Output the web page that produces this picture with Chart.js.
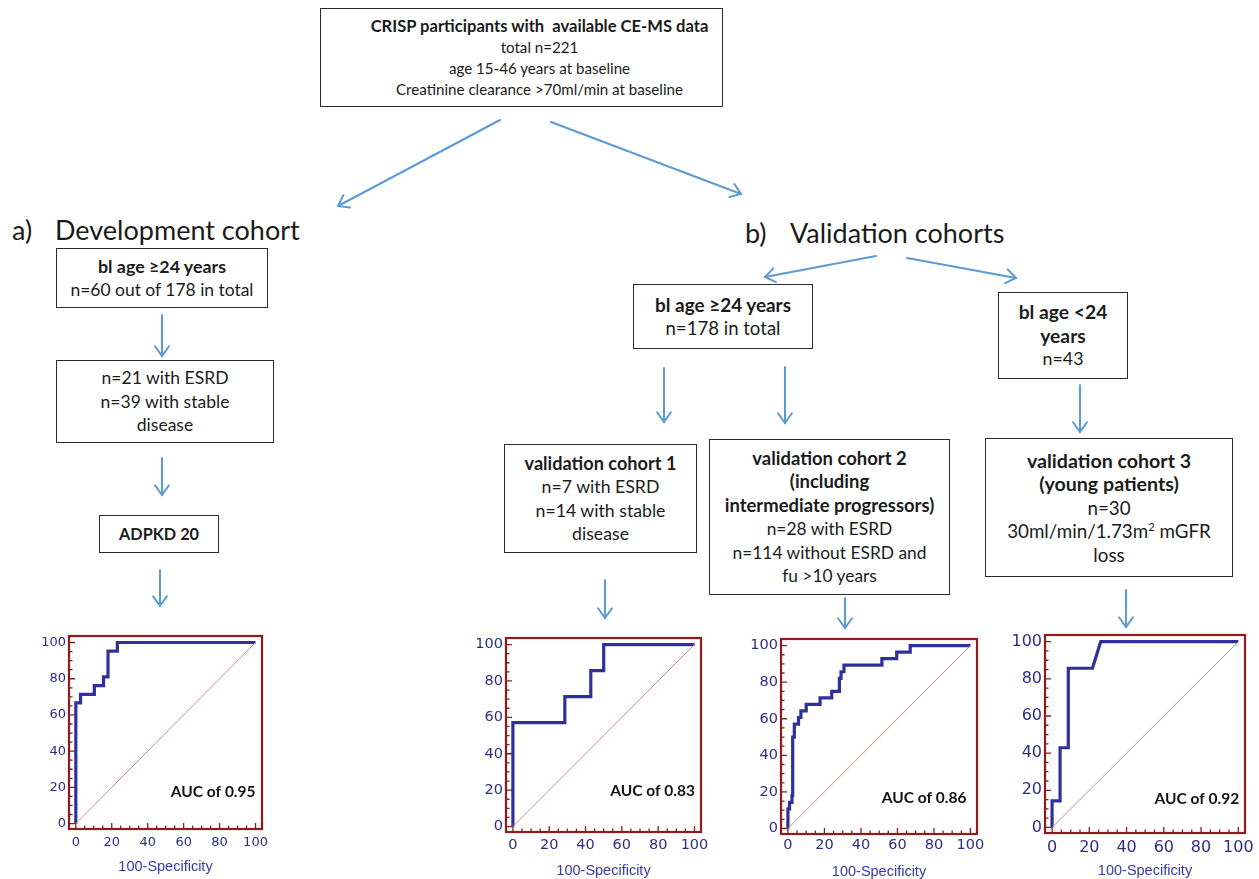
<!DOCTYPE html>
<html>
<head>
<meta charset="utf-8">
<title>CRISP CE-MS cohorts and ROC curves</title>
<script src="https://cdn.jsdelivr.net/npm/chart.js@4.4.1/dist/chart.umd.min.js"></script>
<style>
  html, body { margin: 0; padding: 0; background: #fff; }
  #page { position: relative; width: 1259px; height: 879px; overflow: hidden;
          font-family: Lato, "Open Sans", sans-serif; color: #1b1b1b; }
  .box { position: absolute; box-sizing: border-box; border: 1.7px solid #2a2a2a;
         display: flex; flex-direction: column; justify-content: center; align-items: center;
         text-align: center; font-size: 16px; line-height: 23.5px; white-space: nowrap; }
  .box b { font-weight: 700; }
  .box sup { font-size: 0.6em; line-height: 0; }
  .head { position: absolute; font-size: 27px; white-space: nowrap; line-height: 30px; color: #1b1b1b; }
  .roc { position: absolute; }
  #arrows { position: absolute; left: 0; top: 0; }
</style>
</head>
<body>
<div id="page">
  <svg id="arrows" width="1259" height="879"></svg>

  <div class="box" style="left:320px;top:8px;width:403px;height:99px;padding-left:36px;line-height:21px;">
    <b data-w="338">CRISP participants with&nbsp; available CE-MS data</b>
    <span data-w="70">total n=221</span>
    <span data-w="180">age 15-46 years at baseline</span>
    <span data-w="318">Creatinine clearance &gt;70ml/min at baseline</span>
  </div>

  <div class="head" style="left:12px;top:215px;">a)</div>
  <div class="head" style="left:55px;top:215px;">Development cohort</div>
  <div class="head" style="left:745px;top:218px;">b)</div>
  <div class="head" style="left:790px;top:218px;">Validation cohorts</div>

  <div class="box" style="left:56px;top:248px;width:212px;height:60px;">
    <b data-w="128">bl age ≥24 years</b>
    <span data-w="183">n=60 out of 178 in total</span>
  </div>
  <div class="box" style="left:56px;top:360px;width:218px;height:83px;">
    <span data-w="125">n=21 with ESRD</span>
    <span data-w="130">n=39 with stable</span>
    <span data-w="57">disease</span>
  </div>
  <div class="box" style="left:99px;top:515px;width:120px;height:38px;">
    <b data-w="80">ADPKD 20</b>
  </div>

  <div class="box" style="left:633px;top:284px;width:180px;height:65px;">
    <b data-w="136">bl age ≥24 years</b>
    <span data-w="115">n=178 in total</span>
  </div>
  <div class="box" style="left:504px;top:444px;width:193px;height:109px;">
    <b data-w="152">validation cohort 1</b>
    <span data-w="114">n=7 with ESRD</span>
    <span data-w="132">n=14 with stable</span>
    <span data-w="58">disease</span>
  </div>
  <div class="box" style="left:709px;top:439px;width:241px;height:156px;">
    <b data-w="153">validation cohort 2</b>
    <b data-w="80">(including</b>
    <b data-w="210">intermediate progressors)</b>
    <span data-w="123">n=28 with ESRD</span>
    <span data-w="194">n=114 without ESRD and</span>
    <span data-w="97">fu &gt;10 years</span>
  </div>
  <div class="box" style="left:998px;top:292px;width:130px;height:87px;">
    <b data-w="86">bl age &lt;24</b>
    <b data-w="47">years</b>
    <span data-w="41">n=43</span>
  </div>
  <div class="box" style="left:985px;top:438px;width:248px;height:139px;">
    <b data-w="163">validation cohort 3</b>
    <b data-w="141">(young patients)</b>
    <span data-w="42">n=30</span>
    <span data-w="205">30ml/min/1.73m<sup>2</sup> mGFR</span>
    <span data-w="32">loss</span>
  </div>

  <div class="roc" id="w1"><canvas id="roc1"></canvas></div>
  <div class="roc" id="w2"><canvas id="roc2"></canvas></div>
  <div class="roc" id="w3"><canvas id="roc3"></canvas></div>
  <div class="roc" id="w4"><canvas id="roc4"></canvas></div>
</div>

<script>
// ---- ROC data: 100-Specificity (x) and Sensitivity (y) at each curve corner ----
const tickValues = [0, 20, 40, 60, 80, 100];
const axisTitle = '100-Specificity';
const diagonalX = [0, 100];
const diagonalY = [0, 100];

// a) development cohort, ADPKD 20
const fprDev = [0, 0, 2.6, 2.6, 10.3, 10.3, 15.4, 15.4, 17.9, 17.9, 23.1, 23.1, 100];
const sensDev = [0, 66.7, 66.7, 71.4, 71.4, 76.2, 76.2, 81.0, 81.0, 95.2, 95.2, 100, 100];

// validation cohort 1
const fprVal1 = [0, 0, 28.6, 28.6, 42.9, 42.9, 50.0, 50.0, 100];
const sensVal1 = [0, 57.1, 57.1, 71.4, 71.4, 85.7, 85.7, 100, 100];

// validation cohort 2
const fprVal2 = [0, 0, 0.9, 0.9, 2.2, 2.2, 2.6, 2.6, 3.5, 3.5, 5.8, 5.8, 7.1, 7.1, 10.0, 10.0,
                 17.6, 17.6, 24.0, 24.0, 28.2, 28.2, 29.1, 29.1, 30.7, 30.7, 51.5, 51.5,
                 59.6, 59.6, 67.0, 67.0, 100];
const sensVal2 = [0, 10.7, 10.7, 14.3, 14.3, 17.9, 17.9, 50.0, 50.0, 57.1, 57.1, 60.7, 60.7, 64.3, 64.3, 67.9,
                  67.9, 71.4, 71.4, 75.0, 75.0, 82.1, 82.1, 85.7, 85.7, 89.3, 89.3, 92.9,
                  92.9, 96.4, 96.4, 100, 100];

// validation cohort 3 (young patients)
const fprVal3 = [0, 0, 4.3, 4.3, 8.7, 8.7, 21.7, 26.1, 100];
const sensVal3 = [0, 14.3, 14.3, 42.9, 42.9, 85.7, 85.7, 100, 100];

const aucLabels = ['AUC of 0.95', 'AUC of 0.83', 'AUC of 0.86', 'AUC of 0.92'];

// ---- styling ----
const FRAME = '#8e1c1c';
const CURVE = '#30309a';
const DIAG = '#c48f8f';
const TICK_COLOR = '#2e2e88';
const TITLE_COLOR = '#3838a8';
const TITLE_SIZE = 14.5;
const X_MIN = -3.8, X_MAX = 103.6, Y_MIN = -3, Y_MAX = 103.6;

// ---- box text: one size for the bold lines and one for the plain lines of each box,
//      chosen so the lines reach their set widths on average ----
document.querySelectorAll('.box').forEach(box => {
  ['b', 'span'].forEach(tag => {
    const lines = Array.from(box.querySelectorAll(':scope > ' + tag + '[data-w]'));
    if (!lines.length) return;
    let ratio = 0;
    lines.forEach(el => {
      el.style.fontSize = '16px';
      ratio += Number(el.dataset.w) / el.getBoundingClientRect().width;
    });
    const size = (16 * ratio / lines.length).toFixed(2) + 'px';
    lines.forEach(el => { el.style.fontSize = size; });
  });
});

// ---- flowchart connectors ----
const svg = document.getElementById('arrows');
function arrow(x1, y1, x2, y2) {
  const ns = 'http://www.w3.org/2000/svg';
  const a = Math.atan2(y2 - y1, x2 - x1), L = 12, s = 0.62;
  const line = document.createElementNS(ns, 'line');
  line.setAttribute('x1', x1); line.setAttribute('y1', y1);
  line.setAttribute('x2', x2); line.setAttribute('y2', y2);
  const head = document.createElementNS(ns, 'polyline');
  head.setAttribute('points',
    (x2 - L * Math.cos(a - s)) + ',' + (y2 - L * Math.sin(a - s)) + ' ' + x2 + ',' + y2 + ' ' +
    (x2 - L * Math.cos(a + s)) + ',' + (y2 - L * Math.sin(a + s)));
  [line, head].forEach(el => {
    el.setAttribute('stroke', '#5b9bd5'); el.setAttribute('stroke-width', '2');
    el.setAttribute('fill', 'none'); el.setAttribute('stroke-linecap', 'round');
    svg.appendChild(el);
  });
}
arrow(500, 120, 338, 206);
arrow(551, 122, 741, 194);
arrow(162, 315, 162, 356);
arrow(162, 458, 162, 495);
arrow(160, 570, 160, 606);
arrow(876, 256, 765, 277);
arrow(907, 258, 1016, 278);
arrow(664, 368, 664, 422);
arrow(785, 367, 785, 423);
arrow(605, 580, 605, 618);
arrow(845, 598, 845, 628);
arrow(1080, 385, 1080, 432);
arrow(1126, 590, 1126, 627);

// ---- ROC charts ----
const frameTicks = {
  id: 'frameTicks',
  afterDatasetsDraw(chart, args, opts) {
    const { ctx, chartArea: a, scales: { x, y } } = chart;
    ctx.save();
    ctx.strokeStyle = FRAME;
    ctx.lineWidth = 1.3;
    ctx.beginPath();
    for (let v = 0; v <= 100; v += 5) {
      const len = v % 20 === 0 ? 6 : 3.5;
      const px = x.getPixelForValue(v);
      ctx.moveTo(px, a.bottom); ctx.lineTo(px, a.bottom - len);
      const py = y.getPixelForValue(v);
      ctx.moveTo(a.left, py); ctx.lineTo(a.left + len, py);
    }
    ctx.stroke();
    ctx.lineWidth = 2.2;
    ctx.strokeRect(a.left, a.top, a.width, a.height);
    ctx.font = 'bold 15.5px Lato, "Open Sans", sans-serif';
    ctx.fillStyle = '#141414';
    ctx.textAlign = 'right';
    ctx.textBaseline = 'middle';
    ctx.fillText(opts.text, x.getPixelForValue(opts.at[0]), y.getPixelForValue(opts.at[1]));
    ctx.restore();
  }
};

function pts(xs, ys) { return xs.map((v, i) => ({ x: v, y: ys[i] })); }

function rocChart(n, fpr, sens, auc, cfg) {
  // generous top/right padding so the end tick labels never squeeze the plot frame
  const yW = 48, padT = 14, padR = 24;
  const xH = cfg.titleY + TITLE_SIZE * 0.6 - (cfg.frame[1] + cfg.frame[3]);
  const wrap = document.getElementById('w' + n);
  const cv = document.getElementById('roc' + n);
  const W = yW + cfg.frame[2] + padR, H = Math.ceil(padT + cfg.frame[3] + xH);
  wrap.style.left = (cfg.frame[0] - yW) + 'px';
  wrap.style.top = (cfg.frame[1] - padT) + 'px';
  cv.width = W; cv.height = H;
  cv.style.width = W + 'px'; cv.style.height = H + 'px';
  const tickFont = { family: '"DejaVu Sans", sans-serif', size: cfg.font };
  new Chart(cv, {
    type: 'scatter',
    data: {
      datasets: [
        { data: pts(diagonalX, diagonalY), showLine: true, borderColor: DIAG, borderWidth: 1,
          pointRadius: 0, tension: 0 },
        { data: pts(fpr, sens), showLine: true, borderColor: CURVE, borderWidth: 3.2,
          pointRadius: 0, tension: 0, borderJoinStyle: 'miter' }
      ]
    },
    options: {
      responsive: false, animation: false, devicePixelRatio: 1,
      layout: { padding: { top: padT, right: padR, left: 0, bottom: 0 } },
      plugins: {
        legend: { display: false }, tooltip: { enabled: false },
        frameTicks: { text: auc, at: cfg.aucAt }
      },
      scales: {
        x: {
          type: 'linear', min: X_MIN, max: X_MAX,
          afterBuildTicks(s) { s.ticks = tickValues.map(v => ({ value: v })); },
          afterFit(s) { s.height = H - padT - cfg.frame[3]; },
          grid: { display: false, drawTicks: false }, border: { display: false },
          ticks: { padding: cfg.xPad, font: tickFont, color: TICK_COLOR, maxRotation: 0, autoSkip: false },
          title: { display: true, text: axisTitle, padding: 0, color: TITLE_COLOR,
                   font: { family: '"Liberation Sans", Arial, sans-serif', size: TITLE_SIZE } }
        },
        y: {
          type: 'linear', min: Y_MIN, max: Y_MAX,
          afterBuildTicks(s) { s.ticks = tickValues.map(v => ({ value: v })); },
          afterFit(s) { s.width = yW; },
          grid: { display: false, drawTicks: false }, border: { display: false },
          ticks: { padding: 3, font: tickFont, color: TICK_COLOR, autoSkip: false }
        }
      }
    },
    plugins: [frameTicks]
  });
}

rocChart(1, fprDev, sensDev, aucLabels[0],
  { frame: [69, 636, 193, 193], font: 13, xPad: 6, titleY: 866.7, aucAt: [100, 17.7] });
rocChart(2, fprVal1, sensVal1, aucLabels[1],
  { frame: [506, 638, 195, 194], font: 14.5, xPad: 5, titleY: 870.7, aucAt: [100.3, 19.5] });
rocChart(3, fprVal2, sensVal2, aucLabels[2],
  { frame: [781, 639, 196, 195], font: 14.5, xPad: 2.5, titleY: 871.7, aucAt: [97.8, 16.9] });
rocChart(4, fprVal3, sensVal3, aucLabels[3],
  { frame: [1045, 635, 200, 198], font: 16, xPad: 5, titleY: 871, aucAt: [100.5, 15.5] });
</script>
</body>
</html>
